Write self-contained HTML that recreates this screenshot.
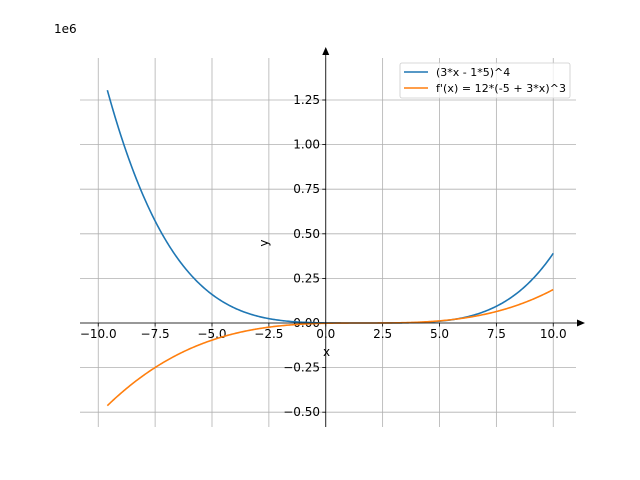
<!DOCTYPE html>
<html><head><style>body{margin:0;background:#fff}svg{display:block;font-family:"DejaVu Sans","Liberation Sans",sans-serif}</style></head>
<body>
<svg id="s" width="640" height="480" xmlns="http://www.w3.org/2000/svg">
<g id="grid" stroke="#b0b0b0" stroke-width="0.8"></g>
<g id="ticks" stroke="#000" stroke-width="0.8"></g>
<g id="labels" font-size="12" fill="#000"></g>
<path id="blue" fill="none" stroke="#1f77b4" stroke-width="1.6"/>
<path id="orange" fill="none" stroke="#ff7f0e" stroke-width="1.6"/>
<line x1="80" y1="323" x2="580" y2="323" stroke="#000" stroke-width="0.8"/>
<polygon points="585,323 577,319.5 577,326.5" fill="#000"/>
<line x1="325.75" y1="427" x2="325.75" y2="53" stroke="#000" stroke-width="0.8"/>
<polygon points="325.75,47 322.25,55 329.25,55" fill="#000"/>
<text x="54" y="33" font-size="12">1e6</text>
<text x="323" y="356" font-size="12">x</text>
<text x="268" y="243" font-size="12" transform="rotate(-90 268 243)" text-anchor="middle">y</text>
<rect x="400" y="63" width="170" height="35" fill="#fff" fill-opacity="0.8" stroke="#ccc" stroke-width="0.8" rx="2"/>
<line x1="404" y1="72" x2="428" y2="72" stroke="#1f77b4" stroke-width="1.6"/>
<text x="436" y="76" font-size="11">(3*x - 1*5)^4</text>
<line x1="404" y1="88" x2="428" y2="88" stroke="#ff7f0e" stroke-width="1.6"/>
<text x="436" y="92" font-size="11" textLength="130">f'(x) = 12*(-5 + 3*x)^3</text>
</svg>
<script>
const X=x=>325.75+x*22.75, Y=v=>323-v/0.25*44.6;
const g=document.getElementById('grid'),t=document.getElementById('ticks'),l=document.getElementById('labels');
const NS='http://www.w3.org/2000/svg';
function el(p,n,a,txt){const e=document.createElementNS(NS,n);for(const k in a)e.setAttribute(k,a[k]);if(txt!==undefined)e.textContent=txt;p.appendChild(e);}
for(let v=-10;v<=10;v+=2.5){const x=X(v);el(g,'line',{x1:x,x2:x,y1:58,y2:427});el(t,'line',{x1:x,x2:x,y1:323,y2:326.5});
el(l,'text',{x:x,y:338,'text-anchor':'middle'},(v<0?'\u2212':'')+Math.abs(v).toFixed(1));}
for(let v=-0.5;v<=1.25;v+=0.25){const y=Y(v);el(g,'line',{x1:80,x2:576,y1:y,y2:y});el(t,'line',{x1:322.25,x2:325.75,y1:y,y2:y});
el(l,'text',{x:320,y:y+4,'text-anchor':'end'},(v<0?'\u2212':'')+Math.abs(v).toFixed(2));}
let b='',o='';for(let i=0;i<=400;i++){const x=-9.6+i*19.6/400;const u=3*x-5;
b+=(i?'L':'M')+X(x).toFixed(2)+','+Y(u**4/1e6).toFixed(2);o+=(i?'L':'M')+X(x).toFixed(2)+','+Y(12*u**3/1e6).toFixed(2);}
document.getElementById('blue').setAttribute('d',b);document.getElementById('orange').setAttribute('d',o);
</script>
</body></html>
